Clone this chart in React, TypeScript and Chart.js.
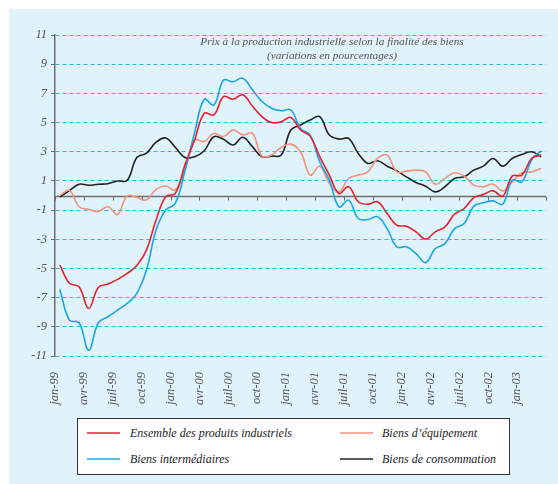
import React, { useEffect, useRef } from "react";
import { Chart, registerables } from "chart.js";

Chart.register(...registerables);

// Quarter tick labels (every 3 months, starting jan-99)
const quarterLabels = [
  "jan-99", "avr-99", "juil-99", "oct-99",
  "jan-00", "avr-00", "juil-00", "oct-00",
  "jan-01", "avr-01", "juil-01", "oct-01",
  "jan-02", "avr-02", "juil-02", "oct-02",
  "jan-03",
];

// Monthly values, jan-99 .. mar-03 (51 months)
const ensemble = [
  -4.77, -6.02, -6.25, -7.74, -6.3, -6.07, -5.75, -5.34, -4.79, -3.74,
  -1.68, -0.08, 0.15, 2.1, 3.8, 5.64, 5.52, 6.78, 6.6, 6.9,
  6.14, 5.41, 5.0, 5.06, 5.35, 4.49, 4.07, 2.65, 1.4, 0.14,
  0.6, -0.43, -0.6, -0.43, -1.24, -2.04, -2.1, -2.49, -2.98, -2.49,
  -2.15, -1.28, -0.89, -0.14, 0.07, 0.32, -0.05, 1.33, 1.4, 2.54,
  2.78,
];
const intermediaires = [
  -6.44, -8.54, -8.72, -10.6, -8.72, -8.31, -7.85, -7.4, -6.71, -5.11,
  -2.37, -1.0, -0.54, 1.7, 4.3, 6.6, 6.2, 7.9, 7.8, 8.04,
  7.24, 6.44, 5.98, 5.81, 5.86, 4.6, 4.14, 2.31, 1.05, -0.78,
  -0.32, -1.58, -1.65, -1.46, -2.27, -3.52, -3.52, -3.98, -4.6, -3.64,
  -3.3, -2.27, -1.92, -0.73, -0.5, -0.37, -0.6, 1.05, 0.94, 2.43,
  3.07,
];
const equipement = [
  0.0, 0.35, -0.77, -0.95, -1.1, -0.77, -1.3, -0.03, -0.13, -0.3,
  0.42, 0.65, 0.38, 1.8, 3.8, 3.7, 4.26, 4.04, 4.5, 4.15,
  4.26, 2.7, 2.78, 3.3, 3.52, 3.0, 1.4, 2.01, 0.82, 0.25,
  1.17, 1.4, 1.62, 2.54, 2.77, 1.62, 1.67, 1.74, 1.62, 0.78,
  1.17, 1.56, 1.33, 0.71, 0.6, 0.78, 0.32, 0.94, 1.56, 1.62,
  1.85,
];
const consommation = [
  -0.1, 0.33, 0.77, 0.7, 0.77, 0.81, 0.99, 1.04, 2.6, 2.9,
  3.65, 3.94, 3.3, 2.6, 2.66, 3.07, 4.03, 3.85, 3.46, 3.99,
  3.35, 2.66, 2.7, 2.77, 4.49, 4.83, 5.17, 5.4, 4.14, 3.87,
  3.91, 2.88, 2.2, 2.38, 2.01, 1.69, 1.28, 0.89, 0.64, 0.25,
  0.6, 1.17, 1.28, 1.74, 2.01, 2.54, 2.01, 2.54, 2.81, 3.0,
  2.65,
];

const seriesNames = [
  "Ensemble des produits industriels",
  "Biens intermédiaires",
  "Biens d’équipement",
  "Biens de consommation",
];
const seriesColors = ["#e8202e", "#1aa7e2", "#f3927c", "#222222"];
const seriesValues = [ensemble, intermediaires, equipement, consommation];

const titleLines = [
  "Prix à la production industrielle selon la finalité des biens",
  "(variations en pourcentages)",
];

const Y_MIN = -11;
const Y_MAX = 11;
const MONTHS = 51;

const SERIF = "'Liberation Serif', 'DejaVu Serif', serif";

const zeroAxisPlugin = {
  id: "zeroAxis",
  beforeDatasetsDraw(chart: any) {
    const { ctx, chartArea, scales } = chart;
    const x = scales.x;
    const y = scales.y;
    const py = Math.round(y.getPixelForValue(0)) + 0.5;
    ctx.save();
    ctx.strokeStyle = "#6e6e6e";
    ctx.lineWidth = 1.5;
    ctx.beginPath();
    ctx.moveTo(chartArea.left, py);
    ctx.lineTo(chartArea.right, py);
    ctx.stroke();
    ctx.lineWidth = 1;
    ctx.beginPath();
    x.ticks.forEach((t: any) => {
      const px = Math.round(x.getPixelForValue(t.value)) + 0.5;
      ctx.moveTo(px, py);
      ctx.lineTo(px, py + 4);
    });
    ctx.stroke();
    ctx.restore();
  },
};

export default function App() {
  const canvasRef = useRef<HTMLCanvasElement | null>(null);

  useEffect(() => {
    if (!canvasRef.current) return;
    const datasets = seriesValues.map((vals, s) => ({
      label: seriesNames[s],
      data: vals.map((v, i) => ({ x: i + 0.5, y: v })),
      borderColor: seriesColors[s],
      backgroundColor: seriesColors[s],
      borderWidth: 1.6,
      pointRadius: 0,
      tension: 0.4,
      fill: false,
    }));
    const chart = new Chart(canvasRef.current, {
      type: "line",
      data: { datasets },
      plugins: [zeroAxisPlugin],
      options: {
        animation: false,
        responsive: false,
        devicePixelRatio: 1,
        layout: { padding: { top: 26, right: 12, left: 0, bottom: 0 } },
        plugins: {
          legend: { display: false },
          tooltip: { enabled: false },
          title: { display: false },
        },
        scales: {
          x: {
            type: "linear",
            min: 0,
            max: MONTHS,
            grid: { display: false, drawTicks: false },
            border: { display: false },
            afterFit: (scale: any) => {
              scale.height = 128;
              scale.paddingLeft = 0;
              scale.paddingRight = 0;
            },
            ticks: {
              stepSize: 3,
              autoSkip: false,
              minRotation: 90,
              maxRotation: 90,
              padding: 16,
              color: "#555555",
              font: { family: SERIF, size: 12.5, style: "italic" },
              callback: (v: any) => {
                const label = quarterLabels[Math.round(Number(v) / 3)];
                return label === undefined ? "" : label;
              },
            },
          },
          y: {
            min: Y_MIN,
            max: Y_MAX,
            afterFit: (scale: any) => {
              scale.width = 46;
              scale.paddingTop = 0;
              scale.paddingBottom = 0;
            },
            grid: {
              color: "#2fb5e6",
              lineWidth: 1,
              drawTicks: true,
              tickLength: 4,
              tickColor: "#6e6e6e",
              tickWidth: 1,
              tickBorderDash: [],
            },
            border: { display: true, color: "#6e6e6e", width: 1.5, dash: [4, 3] },
            ticks: {
              stepSize: 2,
              padding: 4,
              color: "#555555",
              font: { family: SERIF, size: 12.5, style: "italic" },
            },
          },
        },
      } as any,
    });
    return () => chart.destroy();
  }, []);

  return (
    <div
      style={{
        position: "fixed",
        left: 9,
        top: 9,
        width: 549,
        height: 475,
        background: "#e0f2fa",
        overflow: "hidden",
      }}
    >
      <canvas ref={canvasRef} width={549} height={475} style={{ display: "block" }} />
      <div
        style={{
          position: "absolute",
          left: 323,
          top: 26,
          transform: "translateX(-50%)",
          textAlign: "center",
          whiteSpace: "nowrap",
          fontFamily: SERIF,
          fontStyle: "italic",
          fontSize: 11.3,
          lineHeight: "13.5px",
          color: "#555555",
        }}
      >
        {titleLines.map((t, i) => (
          <div key={i}>{t}</div>
        ))}
      </div>
      <div
        style={{
          position: "absolute",
          left: 68,
          top: 409,
          width: 433,
          height: 57,
          boxSizing: "border-box",
          border: "1.5px solid #333333",
          background: "#ffffff",
          fontFamily: SERIF,
          fontStyle: "italic",
          fontSize: 12,
          color: "#222222",
        }}
      >
        {seriesNames.map((name, s) => {
          const col = s === 0 || s === 1 ? 0 : 1;
          const row = s === 0 || s === 2 ? 0 : 1;
          const sx = col === 0 ? 9 : 262;
          const tx = col === 0 ? 52 : 304;
          const cy = row === 0 ? 14 : 40;
          return (
            <React.Fragment key={s}>
              <div
                style={{
                  position: "absolute",
                  left: sx,
                  top: cy - 1,
                  width: 33,
                  height: 2,
                  background: seriesColors[s],
                  opacity: 0.75,
                }}
              />
              <div
                style={{
                  position: "absolute",
                  left: tx,
                  top: cy - 8,
                  lineHeight: "16px",
                  whiteSpace: "nowrap",
                }}
              >
                {name}
              </div>
            </React.Fragment>
          );
        })}
      </div>
    </div>
  );
}
